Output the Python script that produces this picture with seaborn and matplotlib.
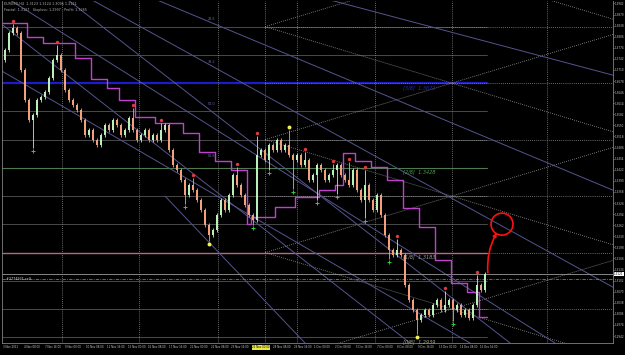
import numpy as np
import pandas as pd
import matplotlib
matplotlib.use("Agg")
import matplotlib.pyplot as plt
import matplotlib.transforms as mtransforms
import seaborn as sns

# ---------------- data ----------------
first_open = 1.3739
closes = [1.3768, 1.3817, 1.3831, 1.3817, 1.3710, 1.3623, 1.3566, 1.3580, 1.3623, 1.3632,
          1.3646, 1.3687, 1.3739, 1.3753, 1.3710, 1.3652, 1.3623, 1.3609, 1.3594, 1.3566,
          1.3522, 1.3537, 1.3508, 1.3493, 1.3522, 1.3551, 1.3537, 1.3566, 1.3551, 1.3522,
          1.3537, 1.3571, 1.3537, 1.3508, 1.3522, 1.3537, 1.3508, 1.3522, 1.3508, 1.3537,
          1.3551, 1.3479, 1.3436, 1.3421, 1.3392, 1.3349, 1.3378, 1.3363, 1.3335, 1.3306,
          1.3262, 1.3234, 1.3248, 1.3291, 1.3335, 1.3306, 1.3349, 1.3407, 1.3378, 1.3349,
          1.3320, 1.3291, 1.3277, 1.3465, 1.3479, 1.3450, 1.3493, 1.3479, 1.3508, 1.3479,
          1.3493, 1.3465, 1.3450, 1.3465, 1.3436, 1.3450, 1.3392, 1.3407, 1.3436, 1.3421,
          1.3392, 1.3407, 1.3421, 1.3436, 1.3407, 1.3392, 1.3378, 1.3421, 1.3363, 1.3335,
          1.3378, 1.3335, 1.3306, 1.3349, 1.3291, 1.3234, 1.3190, 1.3176, 1.3190, 1.3176,
          1.3089, 1.3046, 1.3017, 1.2988, 1.3003, 1.3017, 1.3003, 1.3031, 1.3046, 1.3017,
          1.3031, 1.3046, 1.3017, 1.3031, 1.3003, 1.3017, 1.2994, 1.3031, 1.3089, 1.3075,
          1.3121]

up_fractal_idx = [2, 13, 32, 39, 47, 58, 63, 75, 82, 86, 90, 98, 110, 118]
up_fractal_price = [1.3851, 1.3791, 1.3609, 1.3566, 1.3407, 1.3439, 1.3528, 1.3482, 1.3447,
                    1.3453, 1.3430, 1.3231, 1.3081, 1.3127]
down_fractal_idx = [7, 45, 62, 66, 72, 78, 83, 90, 96, 112]
down_fractal_price = [1.3476, 1.3314, 1.3254, 1.3413, 1.3358, 1.3326, 1.3343, 1.3274, 1.3156, 1.2977]
extreme_high_idx = [71]
extreme_high_price = [1.3545]
extreme_low_idx = [51, 103]
extreme_low_price = [1.3208, 1.2939]

stop_start_idx = [-0.75, 5.5, 9.5, 17.5, 21.5, 25.5, 28.5, 32.5, 37.5, 44.5, 48.5, 52.5, 56.5,
                  60.5, 61.5, 67.5, 72.5, 78.5, 82.5, 84.5, 87.5, 91.5, 95.5, 99.5, 103.5,
                  107.5, 111.5, 115.5, 118.5, 120.5]
stop_level = [1.3846, 1.3805, 1.3788, 1.3745, 1.3684, 1.3658, 1.3623, 1.3574, 1.3557, 1.3528,
              1.3473, 1.3447, 1.3421, 1.3265, 1.3285, 1.3314, 1.3343, 1.3363, 1.3378, 1.3470,
              1.3447, 1.3430, 1.3392, 1.3312, 1.3257, 1.3161, 1.3095, 1.3069, 1.2997, 1.2997]

grid_levels = [1.2939, 1.3020, 1.3102, 1.3183, 1.3265, 1.3346, 1.3428, 1.3509, 1.3591,
               1.3672, 1.3754, 1.3835]
murrey_names = ["[0/8]", "[1/8]", "[2/8]", "[3/8]"]
murrey_values = [1.2939, 1.3183, 1.3428, 1.3672]

trend_x0 = [81.25, 38.0, 21.75, 1.25, 15.75, -1.25, -1.25, 40.0]
trend_p0 = [1.3912, 1.3912, 1.3912, 1.3912, 1.3912, 1.3846, 1.3710, 1.3346]
trend_x1 = [152.0, 152.0, 152.0, 137.5, 126.25, 101.25, 116.25, 75.0]
trend_p1 = [1.3695, 1.3363, 1.3083, 1.2922, 1.2922, 1.2922, 1.2922, 1.2922]

fan_label_text = ["23.6", "38.2", "50.0", "61.8"]
fan_label_price = [1.3857, 1.3733, 1.3612, 1.3462]

separator_idx = [14.25, 33.5, 53.25, 65.0, 73.0, 92.5, 111.75, 135.5]

gann_anchor_idx = 65.0
gann_levels = [1.4160, 1.3835, 1.3509, 1.3183, 1.2857]
gann_slope = 0.000349
gann_hlevels = [1.3835, 1.3672, 1.3509, 1.3346, 1.3183, 1.3020]

order_price = 1.3107
order_label = "#3774931 sell"

target_idx = 124.25
target_price = 1.3265

y_ticks = [1.2942, 1.2974, 1.3006, 1.3038, 1.3070, 1.3102, 1.3134, 1.3166, 1.3198, 1.3230,
           1.3262, 1.3294, 1.3326, 1.3358, 1.3390, 1.3422, 1.3454, 1.3486, 1.3518, 1.3550,
           1.3582, 1.3614, 1.3646, 1.3678, 1.3710, 1.3742, 1.3774, 1.3806, 1.3838, 1.3870,
           1.3902]
x_tick_labels = ["3 Nov 2011", "4 Nov 08:00", "7 Nov 16:00", "9 Nov 00:00", "10 Nov 08:00",
                 "11 Nov 16:00", "15 Nov 00:00", "16 Nov 08:00", "17 Nov 16:00", "21 Nov 00:00",
                 "22 Nov 08:00", "23 Nov 16:00", "25 Nov 00:00", "28 Nov 08:00", "29 Nov 16:00",
                 "1 Dec 00:00", "2 Dec 08:00", "5 Dec 16:00", "7 Dec 00:00", "8 Dec 08:00",
                 "9 Dec 16:00", "13 Dec 00:00", "14 Dec 08:00", "15 Dec 16:00"]
highlight_label = 12

header_1 = "EURUSD,H4  1.3123 1.3124 1.3096 1.3121"
header_2 = "Fractal: 1.3127   Stoploss: 1.2997   Profit: 1.3265"

# ---------------- derived OHLC ----------------
n = len(closes)
idx = np.arange(n)
opens = np.array([first_open] + closes[:-1])
cl = np.array(closes)
wick = 0.0005
gap = 0.0008
highs = np.maximum(opens, cl) + wick
lows = np.minimum(opens, cl) - wick
for i, p in zip(up_fractal_idx + extreme_high_idx, up_fractal_price + extreme_high_price):
    highs[i] = max(highs[i], p - gap)
for i, p in zip(down_fractal_idx + extreme_low_idx, down_fractal_price + extreme_low_price):
    lows[i] = min(lows[i], p + gap)

df = pd.DataFrame({"idx": idx, "open": opens, "close": cl, "high": highs, "low": lows})
df["up"] = df["close"] >= df["open"]

# ---------------- style ----------------
sns.set_theme(style="dark", rc={"axes.facecolor": "black", "figure.facecolor": "black",
                                "axes.edgecolor": "#808080", "axes.grid": False})
plt.rcParams["font.family"] = ["DejaVu Sans"]

fig = plt.figure(figsize=(6.25, 3.55), dpi=100, facecolor="black")
ax = fig.add_axes([2 / 625, 12 / 355, 611 / 625, 342 / 355])
ax.set_facecolor("black")
XMIN, XMAX = -0.75, 152.0
YMIN, YMAX = 1.2922, 1.3909
ax.set_xlim(XMIN, XMAX)
ax.set_ylim(YMIN, YMAX)

UP_C = "#b8f0b8"
DN_C = "#f4a07a"

# grid / Murrey sub levels (solid, up to last bar)
last_x = n - 0.5
for lv in grid_levels:
    col, lw = "#555555", 0.6
    if abs(lv - 1.3672) < 1e-4:
        col, lw = "#1c1ccc", 1.6
    elif abs(lv - 1.3428) < 1e-4:
        col, lw = "#4f7a4f", 0.8
    elif abs(lv - 1.3183) < 1e-4:
        col, lw = "#b06a82", 1.0
    ax.plot([XMIN, last_x], [lv, lv], color=col, lw=lw, zorder=1)

# dotted horizontal (gann) levels
for lv in gann_hlevels:
    ax.plot([gann_anchor_idx, XMAX], [lv, lv], color="#8a8a8a", lw=0.6,
            ls=(0, (1, 1.5)), zorder=1)

# vertical separators
for sx in separator_idx:
    ax.axvline(sx, color="#8a8a8a", lw=0.6, ls=(0, (1, 1.5)), zorder=1)

# gann grid diagonals
span = XMAX - gann_anchor_idx
for lv in gann_levels:
    for sgn in (1, -1):
        ax.plot([gann_anchor_idx, XMAX], [lv, lv + sgn * gann_slope * span],
                color="#9a9a9a", lw=0.6, ls=(0, (1, 1.5)), zorder=1)

# trend lines
for x0, p0, x1, p1 in zip(trend_x0, trend_p0, trend_x1, trend_p1):
    ax.plot([x0, x1], [p0, p1], color="#55558f", lw=0.7, zorder=1)

for t, p in zip(fan_label_text, fan_label_price):
    ax.text(50.75, p, t, color="#6a6aaa", fontsize=2.4, va="center", ha="left", zorder=2)

# current price & order line
ax.axhline(cl[-1], color="#9a9a9a", lw=0.6, zorder=1)
ax.axhline(order_price, color="#7a7a7a", lw=0.6, ls=(0, (4, 1.5, 1, 1.5)), zorder=1)
ax.text(0.2, order_price, order_label, color="#d0d0d0", fontsize=2.4, va="center",
        ha="left", zorder=3)

# Murrey labels
m_colors = ["#a0a080", "#9a9a9a", "#4f9a4f", "#2a2ab0"]
for name, val, c in zip(murrey_names, murrey_values, m_colors):
    ax.text(99.5, val - 0.0013, f"{name}  {val:.4f}", color=c, fontsize=3.6,
            style="italic", va="center", ha="left", zorder=3)

# magenta stop line
ax.step(stop_start_idx, stop_level, where="post", color="#c040d0", lw=1.0, zorder=3)

# candles
ax.vlines(df["idx"], df["low"], df["high"], colors=np.where(df["up"], UP_C, DN_C),
          lw=0.6, zorder=4)
body_h = np.maximum((df["close"] - df["open"]).abs(), 0.00015)
ax.bar(df["idx"], body_h, bottom=np.minimum(df["open"], df["close"]), width=0.6,
       color=np.where(df["up"], UP_C, DN_C), linewidth=0, zorder=5)

# fractals
fr_up = pd.DataFrame({"x": up_fractal_idx, "y": up_fractal_price})
fr_dn = pd.DataFrame({"x": down_fractal_idx, "y": down_fractal_price})
fr_ex = pd.DataFrame({"x": extreme_high_idx + extreme_low_idx,
                      "y": extreme_high_price + extreme_low_price})
sns.scatterplot(data=fr_up, x="x", y="y", ax=ax, color="#e03a3a", s=6, linewidth=0,
                zorder=6, legend=False)
sns.scatterplot(data=fr_dn, x="x", y="y", ax=ax, color="#30d030", marker="+", s=8,
                linewidth=0.7, zorder=6, legend=False)
sns.scatterplot(data=fr_ex, x="x", y="y", ax=ax, color="#f0f060", s=8, linewidth=0,
                zorder=6, legend=False)

# red annotation
ax.annotate("", xy=(target_idx - 1.3, target_price - 0.0025),
            xytext=(n - 0.3, cl[-1] + 0.0004),
            arrowprops=dict(arrowstyle="-|>", color="#ff1010", lw=1.2, mutation_scale=5,
                            shrinkA=0, shrinkB=0, connectionstyle="arc3,rad=-0.15"),
            zorder=7)
ax.scatter([target_idx], [target_price], s=250, facecolors="none", edgecolors="#ff1010",
           linewidths=1.2, zorder=7)

# axes / ticks
ax.set_xlabel("")
ax.set_ylabel("")
ax.yaxis.tick_right()
ax.set_yticks(y_ticks)
ax.set_yticklabels([f"{v:.4f}" for v in y_ticks])
xt = [-0.5 + k * 5.19 for k in range(len(x_tick_labels))]
ax.set_xticks(xt)
ax.set_xticklabels(x_tick_labels)
ax.tick_params(axis="y", colors="#c8c8c8", labelsize=2.0, length=1.0, width=0.5, pad=0.5)
ax.tick_params(axis="x", colors="#c8c8c8", labelsize=1.9, length=1.0, width=0.5, pad=0.8)
for lab in ax.get_xticklabels():
    lab.set_ha("left")
hl = ax.get_xticklabels()[highlight_label]
hl.set_bbox(dict(facecolor="#e8e840", edgecolor="none", pad=0.2))
hl.set_color("black")
for sp in ax.spines.values():
    sp.set_color("#808080")
    sp.set_linewidth(0.6)
ax.spines["top"].set_visible(False)

# current price box on axis
trans = mtransforms.blended_transform_factory(ax.transAxes, ax.transData)
ax.text(1.002, cl[-1], f"{cl[-1]:.4f}", transform=trans, fontsize=2.0, color="black",
        va="center", ha="left", bbox=dict(facecolor="white", edgecolor="none", pad=0.3),
        zorder=8, clip_on=False)

fig.text(4 / 625, 1 - 4 / 355, header_1, color="#b0b0b0", fontsize=2.4, va="center")
fig.text(4 / 625, 1 - 9.5 / 355, header_2, color="#b0b0b0", fontsize=2.4, va="center")

fig.savefig("out.png", dpi=100, facecolor="black")
